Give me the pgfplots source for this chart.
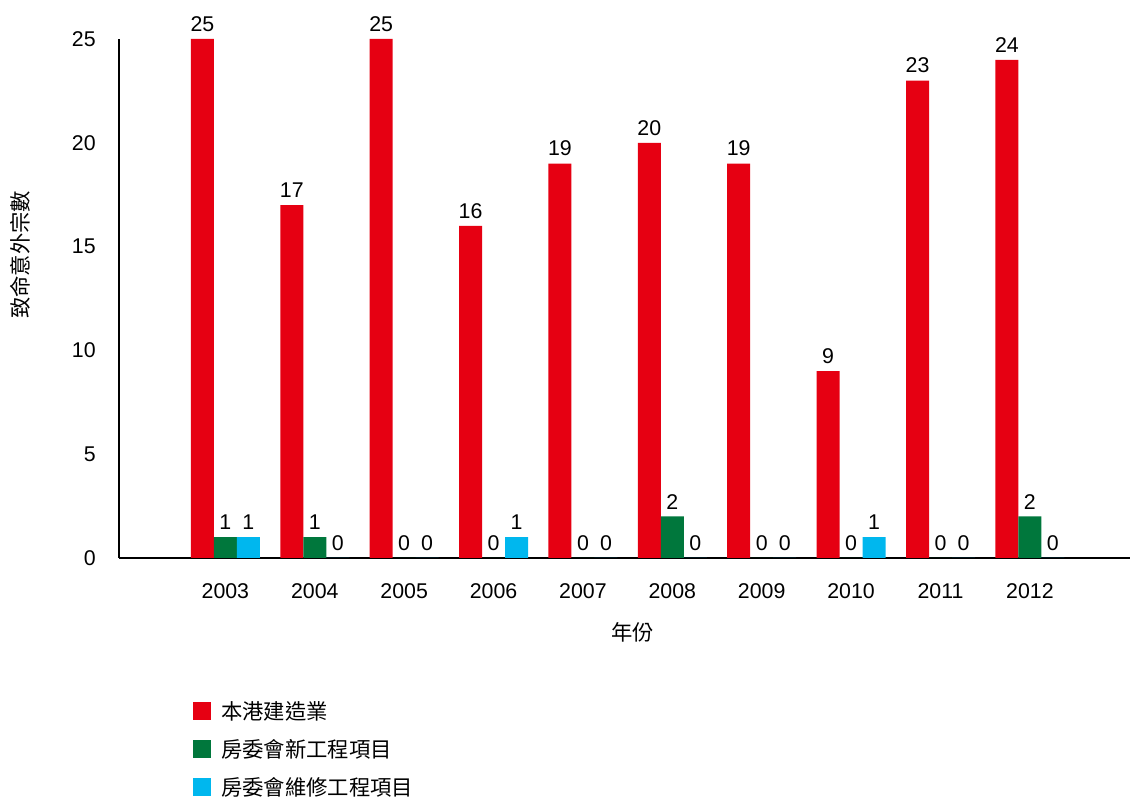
\documentclass[border=0pt]{standalone}
\usepackage{pgfplots}
\pgfplotsset{compat=1.18}
\usepackage{fontspec}
\setmainfont{Liberation Sans}
\newfontfamily\cjk{Noto Sans CJK TC}
\definecolor{cRed}{HTML}{E60012}
\definecolor{cGreen}{HTML}{00773C}
\definecolor{cCyan}{HTML}{00B7EE}
\newcommand{\fs}{\fontsize{16}{19}\selectfont}
\begin{document}
\begin{tikzpicture}[font=\fs]
\useasboundingbox (0,0) rectangle (848.25pt,598.5pt);
\begin{axis}[
  at={(89.25pt,180pt)}, anchor=south west,
  scale only axis,
  width=758.25pt, height=389.25pt,
  /pgf/number format/assume math mode=true,
  ybar=0pt, bar width=17.25pt,
  xmin=-1.19, xmax=10.12, ymin=0, ymax=25,
  enlargelimits=false,
  axis lines=left,
  axis line style={-, line width=1pt},
  major tick length=0pt,
  xtick={0,...,9},
  xticklabels={2003,2004,2005,2006,2007,2008,2009,2010,2011,2012},
  ytick={0,5,...,25},
  tick label style={font=\fs},
  yticklabel style={xshift=-14pt},
  xticklabel style={yshift=-16pt},
  xlabel={\cjk 年份},
  ylabel={\cjk 致命意外宗數},
  xlabel style={at={(axis description cs:0.508,-0.1426)}, anchor=center, font=\fs},
  ylabel style={at={(axis description cs:-0.098,0.584)}, anchor=center, font=\fs},
  nodes near coords,
  nodes near coords style={font=\fs, yshift=2pt},
  legend style={at={(axis description cs:0.0732,-0.270)}, anchor=north west,
    draw=none, fill=none, inner sep=0pt, row sep=9.5pt, font=\fs\cjk},
  legend cell align=left,
  legend image code/.code={\fill[#1] (0pt,-6.75pt) rectangle (13.5pt,6.75pt); \path (19pt,0pt);},
]
\addplot[fill=cRed, draw=none] coordinates {(0,25) (1,17) (2,25) (3,16) (4,19) (5,20) (6,19) (7,9) (8,23) (9,24)};
\addplot[fill=cGreen, draw=none] coordinates {(0,1) (1,1) (2,0) (3,0) (4,0) (5,2) (6,0) (7,0) (8,0) (9,2)};
\addplot[fill=cCyan, draw=none] coordinates {(0,1) (1,0) (2,0) (3,1) (4,0) (5,0) (6,0) (7,1) (8,0) (9,0)};
\legend{本港建造業,房委會新工程項目,房委會維修工程項目}
\end{axis}
\end{tikzpicture}
\end{document}
